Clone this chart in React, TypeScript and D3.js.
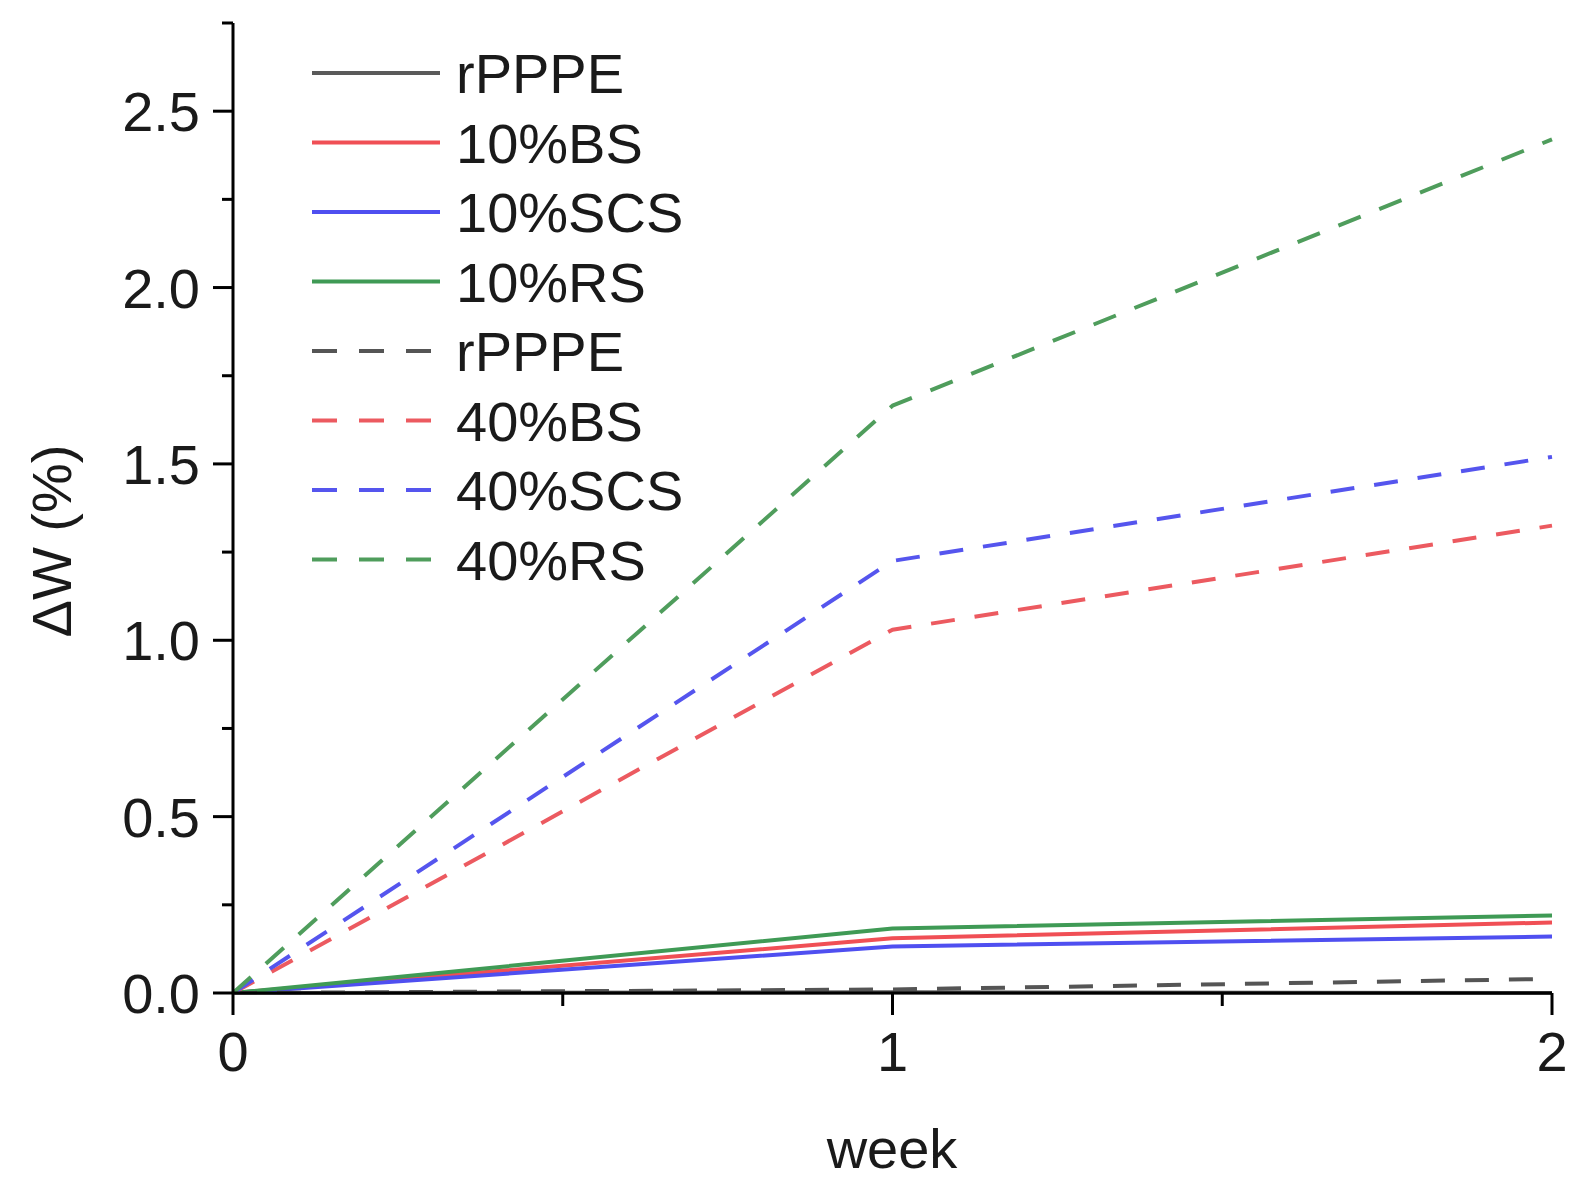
import React from "react";
import * as d3 from "d3";

const weeks = [0, 1, 2];
const rPPPE10 = [0, 0.002, 0.0];
const bs10 = [0, 0.155, 0.2];
const scs10 = [0, 0.132, 0.16];
const rs10 = [0, 0.183, 0.22];
const rPPPE40 = [0, 0.01, 0.04];
const bs40 = [0, 1.03, 1.325];
const scs40 = [0, 1.225, 1.52];
const rs40 = [0, 1.665, 2.42];

const seriesNames = ["rPPPE", "10%BS", "10%SCS", "10%RS", "rPPPE", "40%BS", "40%SCS", "40%RS"];
const seriesValues = [rPPPE10, bs10, scs10, rs10, rPPPE40, bs40, scs40, rs40];
const seriesColors = ["#5a5a5a", "#f04f55", "#4f4ff0", "#3f9a55", "#555555", "#ec5a60", "#5555ee", "#4f9d5c"];
const seriesDashed = [false, false, false, false, true, true, true, true];

const xMajor = [0, 1, 2];
const xMinor = [0.5, 1.5];
const yMajor = [0, 0.5, 1.0, 1.5, 2.0, 2.5];
const yMinor = [0.25, 0.75, 1.25, 1.75, 2.25, 2.75];

const W = 1580;
const H = 1184;
const FONT = "'Liberation Sans', Arial, sans-serif";
const FS = 56;

export default function App() {
  const x = d3.scaleLinear().domain([0, 2]).range([233, 1552]);
  const y = d3.scaleLinear().domain([0, 2.75]).range([993, 23]);
  const line = d3
    .line<number>()
    .x((_, i) => x(weeks[i]))
    .y((d) => y(d));

  const legendX0 = 312;
  const legendX1 = 440;
  const legendY0 = 73;
  const legendDy = 69.5;

  return (
    <svg
      width={W}
      height={H}
      style={{ position: "absolute", left: 0, top: 0, background: "#fff" }}
      fontFamily={FONT}
    >
      <rect x={0} y={0} width={W} height={H} fill="#fff" />
      {/* series */}
      {seriesValues.map((vals, i) => (
        <path
          key={"s" + i}
          d={line(vals) || ""}
          fill="none"
          stroke={seriesColors[i]}
          strokeWidth={4}
          strokeDasharray={seriesDashed[i] ? "24 20" : undefined}
          strokeLinejoin="round"
        />
      ))}
      {/* axes */}
      <line x1={x(0)} x2={x(0)} y1={y(2.75)} y2={y(0)} stroke="#000" strokeWidth={3} />
      <line x1={x(0)} x2={x(2)} y1={y(0)} y2={y(0)} stroke="#000" strokeWidth={3} />
      {yMajor.map((v) => (
        <g key={"ym" + v}>
          <line x1={x(0) - 20} x2={x(0)} y1={y(v)} y2={y(v)} stroke="#000" strokeWidth={3} />
          <text
            x={x(0) - 33}
            y={y(v)}
            dy="0.36em"
            textAnchor="end"
            fontSize={FS}
            fill="#1a1a1a"
          >
            {v.toFixed(1)}
          </text>
        </g>
      ))}
      {yMinor.map((v) => (
        <line key={"yn" + v} x1={x(0) - 11} x2={x(0)} y1={y(v)} y2={y(v)} stroke="#000" strokeWidth={3} />
      ))}
      {xMajor.map((v) => (
        <g key={"xm" + v}>
          <line x1={x(v)} x2={x(v)} y1={y(0)} y2={y(0) + 22} stroke="#000" strokeWidth={3} />
          <text x={x(v)} y={1071} textAnchor="middle" fontSize={FS} fill="#1a1a1a">
            {v}
          </text>
        </g>
      ))}
      {xMinor.map((v) => (
        <line key={"xn" + v} x1={x(v)} x2={x(v)} y1={y(0)} y2={y(0) + 13} stroke="#000" strokeWidth={3} />
      ))}
      {/* axis titles */}
      <text x={892} y={1168} textAnchor="middle" fontSize={FS} fill="#1a1a1a">
        week
      </text>
      <text
        transform={`translate(71, 541) rotate(-90)`}
        textAnchor="middle"
        fontSize={FS}
        fill="#1a1a1a"
      >
        ΔW (%)
      </text>
      {/* legend */}
      {seriesNames.map((name, i) => {
        const ly = legendY0 + i * legendDy;
        return (
          <g key={"lg" + i}>
            <line
              x1={legendX0}
              x2={legendX1}
              y1={ly}
              y2={ly}
              stroke={seriesColors[i]}
              strokeWidth={4}
              strokeDasharray={seriesDashed[i] ? "25 22" : undefined}
            />
            <text x={456} y={ly} dy="0.36em" fontSize={FS} fill="#1a1a1a">
              {name}
            </text>
          </g>
        );
      })}
    </svg>
  );
}
